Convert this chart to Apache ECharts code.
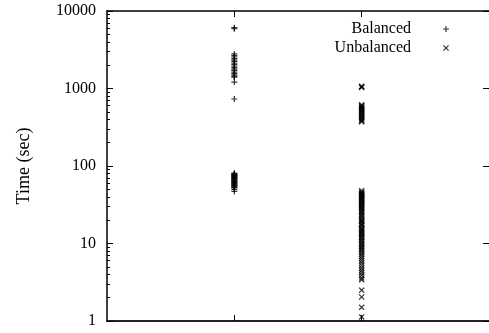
<!DOCTYPE html>
<html>
<head>
<meta charset="utf-8">
<script src="https://cdn.jsdelivr.net/npm/echarts@6/dist/echarts.min.js"></script>
<style>
  html, body { margin: 0; padding: 0; background: #fff; }
  #chart { width: 489px; height: 333px; }
</style>
</head>
<body>
<div id="chart"></div>
<script>
// run times in seconds
const balancedTimes = [
  6100, 5900,
  2790, 2650, 2550, 2430, 2330, 2230, 2130, 2040, 1950, 1870, 1790, 1710, 1630, 1560, 1490, 1440, 1400,
  1210, 732,
  81, 79, 78, 77, 76, 75, 74, 73, 72, 71, 70, 69, 68, 67, 66, 65, 64, 63, 62, 61, 60, 59, 58, 57,
  56, 55, 54, 53, 52, 50, 47
]
const unbalancedTimes = [
  1070, 1050, 1030,
  615, 600, 585, 570, 555, 540, 525, 510, 495, 480, 465, 450, 435, 420, 405, 392, 380, 372,
  48, 46, 45, 44, 43, 42, 41, 40, 39, 38, 37, 36, 35, 34, 33, 32, 31, 30, 29, 28, 27, 26, 25, 24,
  23, 22, 21, 20, 19.5, 19, 18, 17.5, 17, 16, 15.5, 15, 14.5, 14, 13.5, 13, 12.5, 12, 11.5, 11,
  10.5, 10, 9.6, 9.2, 8.8, 8.4, 8, 7.6, 7.2, 6.8, 6.4, 6.0, 5.6, 5.2, 4.8, 4.5, 4.2, 3.9, 3.6, 3.4,
  2.5, 2.04, 1.5, 1.13
]
const seriesNames = ['Balanced', 'Unbalanced']
const xPositions = [1, 2]
const yMajorTicks = [1, 10, 100, 1000, 10000]
const yMinorSteps = [2, 3, 4, 5, 6, 7, 8, 9]

const yMinorTicks = []
yMajorTicks.slice(0, -1).forEach((d) => yMinorSteps.forEach((s) => yMinorTicks.push(d * s)))

const font = 'Liberation Serif'
const ink = '#000'
// gnuplot style point shapes
const plusPath = 'path://M2,0H3V2H5V3H3V5H2V3H0V2H2Z'
const crossPath = 'path://M0,0.7L0.7,0L2.5,1.8L4.3,0L5,0.7L3.2,2.5L5,4.3L4.3,5L2.5,3.2L0.7,5L0,4.3L1.8,2.5Z'

const chart = echarts.init(document.getElementById('chart'))

const frameLine = { show: true, lineStyle: { color: ink, width: 1.5 } }

const option = {
  animation: false,
  grid: { left: 107, top: 11, bottom: 12, right: -2 },
  legend: [0, 1].map((i) => ({
    data: [seriesNames[i]],
    orient: 'vertical',
    align: 'right',
    right: 35,
    top: i === 0 ? 16 : 35,
    itemWidth: 6,
    itemHeight: 6,
    selectedMode: false,
    textStyle: { fontFamily: font, fontSize: 16, color: ink, padding: [0, 27, 0, 0] },
  })),
  xAxis: [
    {
      type: 'value', position: 'bottom', min: 0, max: 3,
      axisLine: { show: true, lineStyle: { color: '#222', width: 2 } },
      axisTick: { show: true, inside: true, length: 6, customValues: xPositions, lineStyle: { color: ink } },
      axisLabel: { show: false },
      splitLine: { show: false },
    },
    {
      type: 'value', position: 'top', min: 0, max: 3,
      axisLine: frameLine,
      axisTick: { show: true, inside: true, length: 6, customValues: xPositions, lineStyle: { color: ink } },
      axisLabel: { show: false },
      splitLine: { show: false },
    },
  ],
  yAxis: [
    {
      type: 'log', logBase: 10, min: 1, max: 10000, position: 'left',
      name: 'Time (sec)',
      nameLocation: 'middle',
      nameGap: 74,
      nameTextStyle: { fontFamily: font, fontSize: 18, color: ink },
      axisLine: frameLine,
      axisTick: { show: true, inside: true, length: 6, customValues: yMajorTicks, lineStyle: { color: ink } },
      axisLabel: {
        customValues: yMajorTicks,
        formatter: (v) => String(v),
        fontFamily: font, fontSize: 16, color: ink, margin: 11,
        showMinLabel: true, showMaxLabel: true,
      },
      splitLine: { show: false },
    },
    {
      type: 'log', logBase: 10, min: 1, max: 10000, position: 'left',
      axisLine: { show: false },
      axisTick: { show: true, inside: true, length: 3, customValues: yMinorTicks, lineStyle: { color: ink } },
      axisLabel: { show: false },
      splitLine: { show: false },
    },
    {
      type: 'log', logBase: 10, min: 1, max: 10000, position: 'right',
      axisLine: { show: false },
      axisTick: { show: true, inside: true, length: 6, customValues: yMajorTicks, lineStyle: { color: ink } },
      axisLabel: { show: false },
      splitLine: { show: false },
    },
  ],
  series: [
    {
      name: seriesNames[0],
      type: 'scatter',
      symbol: plusPath,
      symbolSize: 6,
      itemStyle: { color: ink },
      data: balancedTimes.map((t) => [xPositions[0], t]),
    },
    {
      name: seriesNames[1],
      type: 'scatter',
      symbol: crossPath,
      symbolSize: 6,
      itemStyle: { color: ink },
      data: unbalancedTimes.map((t) => [xPositions[1], t]),
    },
  ],
}

chart.setOption(option)
</script>
</body>
</html>
